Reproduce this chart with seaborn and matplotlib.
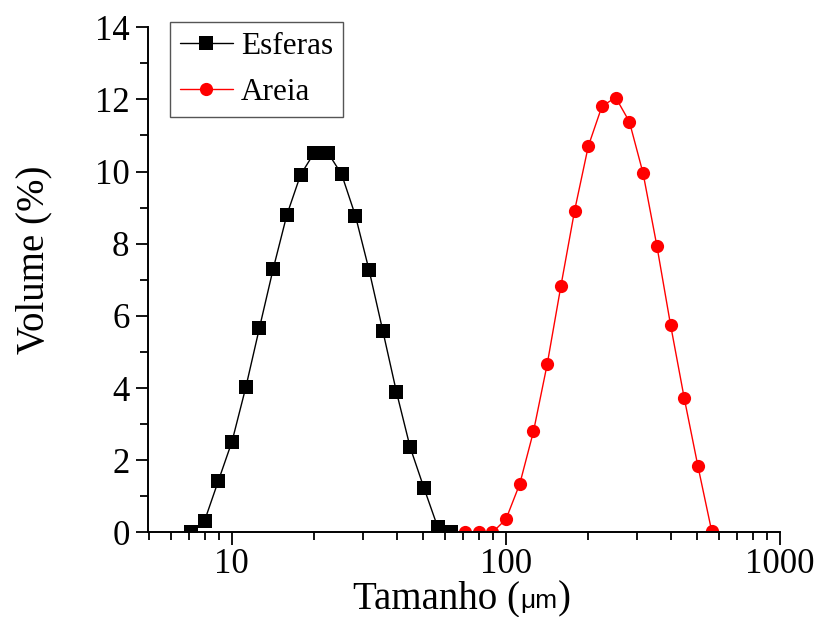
import pandas as pd
import seaborn as sns
import matplotlib.pyplot as plt
from matplotlib.ticker import FixedLocator, NullFormatter, MultipleLocator
from matplotlib.offsetbox import TextArea, HPacker, AnchoredOffsetbox

# particle size bins (um) and volume fractions (%)
esferas_x = [7.096, 7.962, 8.934, 10.02, 11.25, 12.62, 14.16, 15.89, 17.83, 20.0,
             22.44, 25.18, 28.25, 31.70, 35.57, 39.91, 44.77, 50.24, 56.37, 63.25]
esferas_y = [0.0, 0.33, 1.43, 2.52, 4.02, 5.67, 7.30, 8.80, 9.91, 10.52,
             10.52, 9.92, 8.78, 7.27, 5.59, 3.89, 2.36, 1.24, 0.16, 0.02]

areia_x = [70.96, 79.62, 89.34, 100.2, 112.5, 126.2, 141.6, 158.9, 178.3, 200.0,
           224.4, 251.8, 282.5, 317.0, 355.7, 399.1, 447.7, 502.4, 563.7]
areia_y = [0.0, 0.0, 0.0, 0.37, 1.35, 2.80, 4.66, 6.83, 8.92, 10.70,
           11.81, 12.05, 11.38, 9.95, 7.95, 5.76, 3.73, 1.84, 0.05]

df = pd.concat([
    pd.DataFrame({'Tamanho': esferas_x, 'Volume': esferas_y, 'Amostra': 'Esferas'}),
    pd.DataFrame({'Tamanho': areia_x, 'Volume': areia_y, 'Amostra': 'Areia'}),
])

sns.set_style('ticks')
plt.rcParams['font.family'] = ['Liberation Serif', 'DejaVu Serif']
plt.rcParams.update({'text.color': 'black', 'axes.labelcolor': 'black',
                     'xtick.color': 'black', 'ytick.color': 'black'})

fig, ax = plt.subplots(figsize=(8.2, 6.17), dpi=100)
fig.subplots_adjust(left=0.180, right=0.951, bottom=0.137, top=0.956)

sns.lineplot(data=df, x='Tamanho', y='Volume', hue='Amostra', style='Amostra',
             palette={'Esferas': 'black', 'Areia': 'red'},
             markers={'Esferas': 's', 'Areia': 'o'}, dashes=False,
             markersize=9.5, markeredgewidth=0, linewidth=1.0, ax=ax)

ax.set_xscale('log')
ax.set_xlim(4.93, 1000)
ax.set_ylim(0, 14)
ax.xaxis.set_major_locator(FixedLocator([10, 100, 1000]))
ax.set_xticklabels(['10', '100', '1000'])
ax.xaxis.set_minor_locator(FixedLocator([5, 6, 7, 8, 9, 20, 30, 40, 50, 60, 70, 80, 90,
                                         200, 300, 400, 500, 600, 700, 800, 900]))
ax.xaxis.set_minor_formatter(NullFormatter())
ax.yaxis.set_major_locator(MultipleLocator(2))
ax.yaxis.set_minor_locator(MultipleLocator(1))

ax.tick_params(which='major', direction='out', length=9, width=1.3, labelsize=25,
               color='black', labelcolor='black', pad=4)
ax.tick_params(axis='x', which='major', pad=2)
ax.tick_params(which='minor', direction='out', length=6, width=1.3, color='black')
for s in ['left', 'bottom']:
    ax.spines[s].set_linewidth(1.4)
    ax.spines[s].set_color('black')
sns.despine(ax=ax)

ax.set_ylabel('Volume (%)', fontsize=28, color='black')
ax.yaxis.set_label_coords(-0.15, 0.54)
ax.set_xlabel('')

# x label: big serif text with a small "μm" inside the brackets
parts = [TextArea('Tamanho (', textprops=dict(fontsize=28, color='black')),
         TextArea('μm', textprops=dict(fontsize=19, family='Liberation Sans', color='black')),
         TextArea(')', textprops=dict(fontsize=28, color='black'))]
xlab = HPacker(children=parts, align='baseline', pad=0, sep=0)
ab = AnchoredOffsetbox(loc='lower center', child=xlab, pad=0, borderpad=0, frameon=False,
                       bbox_to_anchor=(0.5634, 0.0), bbox_transform=fig.transFigure)
fig.add_artist(ab)

leg = ax.legend(loc='upper left', bbox_to_anchor=(0.035, 1.01), borderaxespad=0,
                fontsize=22.5, frameon=True, fancybox=False, edgecolor='#555555',
                framealpha=1, handlelength=1.7, handletextpad=0.25, borderpad=0.32,
                labelspacing=0.55)
leg.get_frame().set_linewidth(1.0)

fig.savefig('out.png', dpi=100)
